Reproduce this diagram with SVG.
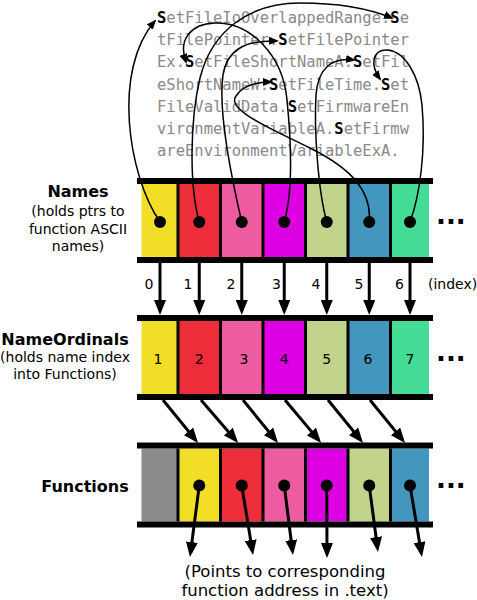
<svg xmlns="http://www.w3.org/2000/svg" width="477" height="600" viewBox="0 0 477 600">
<style>
.lbl{font-family:"DejaVu Sans",Verdana,sans-serif;font-size:14px;fill:#000}
.ttl{font-family:"DejaVu Sans",Verdana,sans-serif;font-size:16px;font-weight:bold;fill:#000}
.mono{font-family:"DejaVu Sans Mono","Liberation Mono",monospace;font-size:15.5px;fill:#8a8a8a}
.mono tspan.s{font-weight:bold;fill:#000}
.dots{font-family:"DejaVu Sans",sans-serif;font-size:26px;font-weight:bold;fill:#000}
.bar{fill:#000}
.div{stroke:#000;stroke-width:3}
.thin{fill:none;stroke:#000;stroke-width:1.5;marker-end:url(#ah)}
.thick{fill:none;stroke:#000;stroke-width:3;marker-end:url(#AH)}
.y{fill:#f2de26}.r{fill:#ee2d3b}.p{fill:#ed5ca0}.m{fill:#dc00e2}.g{fill:#c2d38c}.b{fill:#4396bd}.gr{fill:#45dc98}.gy{fill:#8b8b8b}
</style>
<defs>
<marker id="ah" markerUnits="userSpaceOnUse" markerWidth="10" markerHeight="8" viewBox="0 0 10 8" refX="8" refY="4" orient="auto"><path d="M0,0 L10,4 L0,8 Z" fill="#000"/></marker>
<marker id="AH" markerUnits="userSpaceOnUse" markerWidth="15" markerHeight="12" viewBox="0 0 15 12" refX="11" refY="6" orient="auto"><path d="M0,0 L15,6 L0,12 Z" fill="#000"/></marker>
</defs>

<g id="strings">
<text class="mono" x="157" y="23"><tspan class="s">S</tspan>etFileIoOverlappedRange.<tspan class="s">S</tspan>e</text>
<text class="mono" x="157" y="45.2">tFilePointer.<tspan class="s">S</tspan>etFilePointer</text>
<text class="mono" x="157" y="67.4">Ex.<tspan class="s">S</tspan>etFileShortNameA.<tspan class="s">S</tspan>etFil</text>
<text class="mono" x="157" y="89.6">eShortNameW.<tspan class="s">S</tspan>etFileTime.<tspan class="s">S</tspan>et</text>
<text class="mono" x="157" y="111.8">FileValidData.<tspan class="s">S</tspan>etFirmwareEn</text>
<text class="mono" x="157" y="134">vironmentVariableA.<tspan class="s">S</tspan>etFirmw</text>
<text class="mono" x="157" y="156.2">areEnvironmentVariableExA.</text>
</g>

<g id="names">
<text class="ttl" x="78" y="197" text-anchor="middle">Names</text>
<text class="lbl" x="78" y="216" text-anchor="middle">(holds ptrs to</text>
<text class="lbl" x="78" y="233.5" text-anchor="middle">function ASCII</text>
<text class="lbl" x="78" y="251" text-anchor="middle">names)</text>
<rect class="y" x="141.5" y="184" width="37" height="73"/>
<rect class="r" x="178" y="184" width="42.5" height="73"/>
<rect class="p" x="220.5" y="184" width="42.5" height="73"/>
<rect class="m" x="263" y="184" width="42.5" height="73"/>
<rect class="g" x="305.5" y="184" width="42.5" height="73"/>
<rect class="b" x="348" y="184" width="42.5" height="73"/>
<rect class="gr" x="390.5" y="184" width="38.5" height="73"/>
<path class="div" d="M178,184V257M220.5,184V257M263,184V257M305.5,184V257M348,184V257M390.5,184V257"/>
<rect class="bar" x="137" y="178" width="296" height="6"/>
<rect class="bar" x="137" y="257" width="296" height="6"/>
<text class="dots" x="436" y="223.5">...</text>
</g>

<g id="nameordinals">
<text class="ttl" x="65" y="345" text-anchor="middle">NameOrdinals</text>
<text class="lbl" x="65" y="362" text-anchor="middle">(holds name index</text>
<text class="lbl" x="65" y="379" text-anchor="middle">into Functions)</text>
<rect class="y" x="141.5" y="321" width="37" height="73"/>
<rect class="r" x="178" y="321" width="42.5" height="73"/>
<rect class="p" x="220.5" y="321" width="42.5" height="73"/>
<rect class="m" x="263" y="321" width="42.5" height="73"/>
<rect class="g" x="305.5" y="321" width="42.5" height="73"/>
<rect class="b" x="348" y="321" width="42.5" height="73"/>
<rect class="gr" x="390.5" y="321" width="38.5" height="73"/>
<path class="div" d="M178,321V394M220.5,321V394M263,321V394M305.5,321V394M348,321V394M390.5,321V394"/>
<rect class="bar" x="137" y="315" width="296" height="6"/>
<rect class="bar" x="137" y="394" width="296" height="6"/>
<text class="lbl" x="158" y="364" text-anchor="middle">1</text>
<text class="lbl" x="199.25" y="364" text-anchor="middle">2</text>
<text class="lbl" x="244" y="364" text-anchor="middle">3</text>
<text class="lbl" x="284.25" y="364" text-anchor="middle">4</text>
<text class="lbl" x="326.75" y="364" text-anchor="middle">5</text>
<text class="lbl" x="368" y="364" text-anchor="middle">6</text>
<text class="lbl" x="410" y="364" text-anchor="middle">7</text>
<text class="dots" x="436" y="361">...</text>
</g>

<g id="functions">
<text class="ttl" x="85" y="492" text-anchor="middle">Functions</text>
<rect class="gy" x="141.5" y="448.5" width="37" height="73"/>
<rect class="y" x="178" y="448.5" width="42.5" height="73"/>
<rect class="r" x="220.5" y="448.5" width="42.5" height="73"/>
<rect class="p" x="263" y="448.5" width="42.5" height="73"/>
<rect class="m" x="305.5" y="448.5" width="42.5" height="73"/>
<rect class="g" x="348" y="448.5" width="42.5" height="73"/>
<rect class="b" x="390.5" y="448.5" width="38.5" height="73"/>
<path class="div" d="M178,448.5V521.5M220.5,448.5V521.5M263,448.5V521.5M305.5,448.5V521.5M348,448.5V521.5M390.5,448.5V521.5"/>
<rect class="bar" x="137" y="442.5" width="296" height="6"/>
<rect class="bar" x="137" y="521.5" width="296" height="6"/>
<text class="dots" x="436" y="487.5">...</text>
</g>

<g id="index-labels">
<text class="lbl" x="149" y="289" text-anchor="middle">0</text>
<text class="lbl" x="188" y="289" text-anchor="middle">1</text>
<text class="lbl" x="231" y="289" text-anchor="middle">2</text>
<text class="lbl" x="276.5" y="289" text-anchor="middle">3</text>
<text class="lbl" x="316" y="289" text-anchor="middle">4</text>
<text class="lbl" x="359" y="289" text-anchor="middle">5</text>
<text class="lbl" x="399.5" y="289" text-anchor="middle">6</text>
<text class="lbl" x="428" y="289">(index)</text>
</g>

<g id="footnote">
<text class="lbl" style="font-size:16.5px" x="285" y="577" text-anchor="middle">(Points to corresponding</text>
<text class="lbl" style="font-size:16.5px" x="285" y="596" text-anchor="middle">function address in .text)</text>
</g>

<g id="connectors">
<path class="thin" d="M160,222 C128,175 112,70 155,21"/>
<path class="thin" d="M199.25,222 C189,185 190,120 200,78 C212,30 250,3 300,3 C340,3 370,9 392,18"/>
<path class="thin" d="M241.75,222 C232,180 218,110 223,75 C227,50 245,40 277,41"/>
<path class="thin" d="M284.25,222 C292,195 292,150 287,100 C283,55 250,22 215,23 C190,24 178,40 186,62"/>
<path class="thin" d="M326.75,222 C318,190 314,130 316,95 C318,68 332,57 354,60"/>
<path class="thin" d="M369.25,222 C372,190 350,168 310,148 C270,128 226,110 236,96 C242,86 255,82 271,82"/>
<path class="thin" d="M410,222 C420,195 426,150 422,105 C419,75 405,52 388,50 C372,49 370,65 380,79"/>

<path class="thick" d="M160,263V311"/>
<path class="thick" d="M199.25,263V311"/>
<path class="thick" d="M241.75,263V311"/>
<path class="thick" d="M284.25,263V311"/>
<path class="thick" d="M326.75,263V311"/>
<path class="thick" d="M369.25,263V311"/>
<path class="thick" d="M410,263V311"/>
<path class="thick" d="M163,400L195.5,439.9"/>
<path class="thick" d="M201,400L235.5,439.9"/>
<path class="thick" d="M243,400L275.5,439.9"/>
<path class="thick" d="M285,400L318.5,439.9"/>
<path class="thick" d="M328,400L360.5,439.9"/>
<path class="thick" d="M370,400L402.5,439.9"/>
<path class="thick" d="M199.25,485.5L190.5,553"/>
<path class="thick" d="M241.75,485.5L252.4,551"/>
<path class="thick" d="M284.25,485.5L292.5,551"/>
<path class="thick" d="M326.75,485.5L327,554"/>
<path class="thick" d="M369.25,485.5L377.5,548"/>
<path class="thick" d="M410,485.5L421.3,553"/>
</g>

<g id="pointer-dots" fill="#000">
<circle cx="160" cy="222" r="6"/>
<circle cx="199.25" cy="222" r="6"/>
<circle cx="241.75" cy="222" r="6"/>
<circle cx="284.25" cy="222" r="6"/>
<circle cx="326.75" cy="222" r="6"/>
<circle cx="369.25" cy="222" r="6"/>
<circle cx="410" cy="222" r="6"/>
<circle cx="199.25" cy="485.5" r="6"/>
<circle cx="241.75" cy="485.5" r="6"/>
<circle cx="284.25" cy="485.5" r="6"/>
<circle cx="326.75" cy="485.5" r="6"/>
<circle cx="369.25" cy="485.5" r="6"/>
<circle cx="410" cy="485.5" r="6"/>
</g>
</svg>
